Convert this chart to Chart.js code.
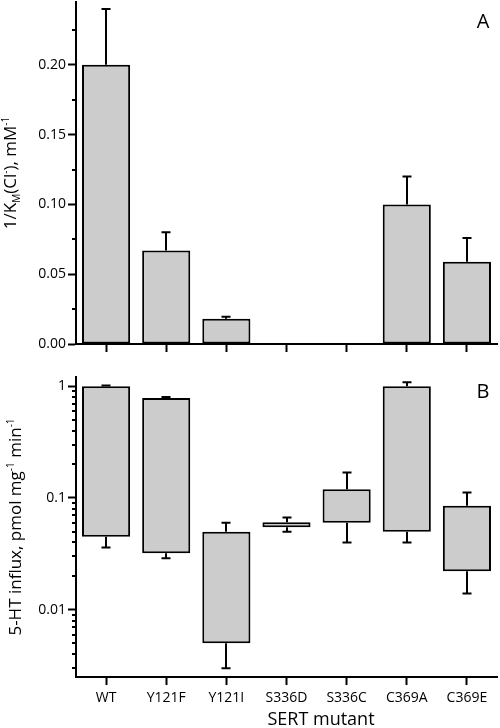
<!DOCTYPE html>
<html>
<head>
<meta charset="utf-8">
<script src="https://cdn.jsdelivr.net/npm/chart.js@4.4.1/dist/chart.umd.min.js"></script>
<style>
  html, body { margin: 0; padding: 0; background: #fff; }
  #wrap { position: relative; width: 500px; height: 728px; }
  canvas { position: absolute; left: 0; }
  #kmChart { top: 0; }
  #influxChart { top: 360px; }
</style>
</head>
<body>
<div id="wrap">
  <canvas id="kmChart" width="500" height="360"></canvas>
  <canvas id="influxChart" width="500" height="368"></canvas>
</div>
<script>
const mutants = ['WT', 'Y121F', 'Y121I', 'S336D', 'S336C', 'C369A', 'C369E'];

// panel A: 1/KM(Cl-) with upward error
const kmInverse = [0.200, 0.067, 0.018, null, null, 0.100, 0.059];
const kmInverseErr = [0.040, 0.013, 0.0015, null, null, 0.020, 0.017];
const kmTicks = [0, 0.05, 0.10, 0.15, 0.20];
const kmTickLabels = ['0.00', '0.05', '0.10', '0.15', '0.20'];
const kmMinorTicks = [0.025, 0.075, 0.125, 0.175, 0.225];

// panel B: 5-HT influx, box from low to high plus whiskers
const influxLow = [0.045, 0.032, 0.0050, 0.0547, 0.060, 0.050, 0.0221];
const influxHigh = [1.0, 0.786, 0.050, 0.0607, 0.120, 1.0, 0.0854];
const influxWhiskerLow = [0.036, 0.0289, 0.0030, 0.050, 0.040, 0.040, 0.0140];
const influxWhiskerHigh = [1.014, 0.803, 0.060, 0.067, 0.169, 1.086, 0.112];
const influxTicks = [0.01, 0.1, 1];
const influxTickLabels = ['0.01', '0.1', '1'];
const influxMinorTicks = [0.003, 0.004, 0.005, 0.006, 0.007, 0.008, 0.009,
  0.02, 0.03, 0.04, 0.05, 0.06, 0.07, 0.08, 0.09,
  0.2, 0.3, 0.4, 0.5, 0.6, 0.7, 0.8, 0.9];

const FONT = "'Open Sans', sans-serif";
Chart.defaults.font.family = FONT;
Chart.defaults.color = '#000';

function drawRotatedTitle(ctx, parts, baseX, centerY) {
  ctx.save();
  ctx.translate(baseX, centerY);
  ctx.rotate(-Math.PI / 2);
  ctx.fillStyle = '#000';
  ctx.textBaseline = 'alphabetic';
  ctx.textAlign = 'left';
  let total = 0;
  parts.forEach(function (p) {
    ctx.font = (p.sub || p.sup ? 10 : 17) + 'px ' + FONT;
    total += ctx.measureText(p.text).width;
  });
  let x = -total / 2;
  parts.forEach(function (p) {
    ctx.font = (p.sub || p.sup ? 10 : 17) + 'px ' + FONT;
    const dy = p.sub ? 4 : (p.sup ? -7 : 0);
    ctx.fillText(p.text, x, dy);
    x += ctx.measureText(p.text).width;
  });
  ctx.restore();
}

function drawMinorTicks(ctx, scale, values) {
  ctx.save();
  ctx.strokeStyle = '#000';
  ctx.lineWidth = 2;
  values.forEach(function (v) {
    const y = Math.round(scale.getPixelForValue(v));
    ctx.beginPath();
    ctx.moveTo(scale.right - 4, y);
    ctx.lineTo(scale.right, y);
    ctx.stroke();
  });
  ctx.restore();
}

function drawWhisker(ctx, x, yFrom, yTo) {
  ctx.beginPath();
  ctx.moveTo(x, yFrom);
  ctx.lineTo(x, yTo);
  ctx.moveTo(x - 4.5, yTo);
  ctx.lineTo(x + 4.5, yTo);
  ctx.stroke();
}

// fixed axis width, no extra padding for the end tick labels
function fixWidth(w) {
  return function (scale) {
    scale.width = w;
    scale.paddingTop = 0;
    scale.paddingBottom = 0;
  };
}
function fixHeight(h) {
  return function (scale) { scale.height = h; };
}

const commonX = {
  grid: { display: true, drawOnChartArea: false, offset: false, tickLength: 8, tickWidth: 2, tickColor: '#000' },
  border: { display: true, color: '#000', width: 2 }
};

// ---- panel A ----
const kmPlugin = {
  id: 'kmExtras',
  afterDatasetsDraw: function (chart) {
    const ctx = chart.ctx;
    const xs = chart.scales.x, ys = chart.scales.y;
    ctx.save();
    ctx.strokeStyle = '#000';
    ctx.lineWidth = 2;
    kmInverse.forEach(function (v, i) {
      if (v === null) return;
      const x = Math.round(xs.getPixelForValue(i));
      drawWhisker(ctx, x, ys.getPixelForValue(v), ys.getPixelForValue(v + kmInverseErr[i]));
    });
    ctx.restore();
    drawMinorTicks(ctx, ys, kmMinorTicks);
    drawRotatedTitle(ctx, [
      { text: '1/K' }, { text: 'M', sub: true }, { text: '(Cl' }, { text: '-', sup: true },
      { text: '), mM' }, { text: '-1', sup: true }
    ], 16, (chart.chartArea.top + chart.chartArea.bottom) / 2);
    ctx.save();
    ctx.font = '20px ' + FONT;
    ctx.fillStyle = '#000';
    ctx.textAlign = 'center';
    ctx.fillText('A', 483, 28);
    ctx.restore();
  }
};

new Chart(document.getElementById('kmChart'), {
  type: 'bar',
  data: {
    labels: mutants,
    datasets: [{
      data: kmInverse,
      backgroundColor: '#cccccc',
      borderColor: '#000',
      borderWidth: 2,
      borderSkipped: false,
      barPercentage: 0.8,
      categoryPercentage: 1
    }]
  },
  options: {
    responsive: false,
    animation: false,
    layout: { padding: { top: 2, right: 3, left: 0, bottom: 0 } },
    plugins: { legend: { display: false }, tooltip: { enabled: false } },
    scales: {
      x: Object.assign({}, commonX, {
        ticks: { display: false },
        afterFit: fixHeight(16)
      }),
      y: {
        min: 0,
        max: 0.245,
        afterBuildTicks: function (scale) {
          scale.ticks = kmTicks.map(function (v) { return { value: v }; });
        },
        afterFit: fixWidth(76),
        ticks: {
          autoSkip: false,
          padding: 2,
          font: { size: 14 },
          callback: function (v, i) { return kmTickLabels[i]; }
        },
        grid: { display: true, drawOnChartArea: false, tickLength: 8, tickWidth: 2, tickColor: '#000' },
        border: { display: true, color: '#000', width: 2 }
      }
    }
  },
  plugins: [kmPlugin]
});

// ---- panel B ----
const influxPlugin = {
  id: 'influxExtras',
  afterDatasetsDraw: function (chart) {
    const ctx = chart.ctx;
    const xs = chart.scales.x, ys = chart.scales.y;
    ctx.save();
    ctx.strokeStyle = '#000';
    ctx.lineWidth = 2;
    mutants.forEach(function (m, i) {
      const x = Math.round(xs.getPixelForValue(i));
      drawWhisker(ctx, x, ys.getPixelForValue(influxHigh[i]), ys.getPixelForValue(influxWhiskerHigh[i]));
      drawWhisker(ctx, x, ys.getPixelForValue(influxLow[i]), ys.getPixelForValue(influxWhiskerLow[i]));
    });
    ctx.restore();
    drawMinorTicks(ctx, ys, influxMinorTicks);
    drawRotatedTitle(ctx, [
      { text: '5-HT influx, pmol mg' }, { text: '-1', sup: true },
      { text: ' min' }, { text: '-1', sup: true }
    ], 21, (chart.chartArea.top + chart.chartArea.bottom) / 2);
    ctx.save();
    ctx.fillStyle = '#000';
    ctx.font = '20px ' + FONT;
    ctx.textAlign = 'center';
    ctx.fillText('B', 483, 38);
    ctx.font = '18px ' + FONT;
    ctx.fillText('SERT mutant', 321, 365);
    ctx.restore();
  }
};

new Chart(document.getElementById('influxChart'), {
  type: 'bar',
  data: {
    labels: mutants,
    datasets: [{
      data: influxLow.map(function (lo, i) { return [lo, influxHigh[i]]; }),
      backgroundColor: '#cccccc',
      borderColor: '#000',
      borderWidth: 2,
      borderSkipped: false,
      barPercentage: 0.8,
      categoryPercentage: 1
    }]
  },
  options: {
    responsive: false,
    animation: false,
    layout: { padding: { top: 17, right: 3, left: 0, bottom: 0 } },
    plugins: { legend: { display: false }, tooltip: { enabled: false } },
    scales: {
      x: Object.assign({}, commonX, {
        ticks: { display: true, autoSkip: false, maxRotation: 0, padding: 5, font: { size: 14 } },
        afterFit: fixHeight(51)
      }),
      y: {
        type: 'logarithmic',
        min: 0.0025,
        max: 1.21,
        afterBuildTicks: function (scale) {
          scale.ticks = influxTicks.map(function (v) { return { value: v }; });
        },
        afterFit: fixWidth(76),
        ticks: {
          autoSkip: false,
          padding: 2,
          font: { size: 14 },
          callback: function (v, i) { return influxTickLabels[i]; }
        },
        grid: { display: true, drawOnChartArea: false, tickLength: 8, tickWidth: 2, tickColor: '#000' },
        border: { display: true, color: '#000', width: 2 }
      }
    }
  },
  plugins: [influxPlugin]
});
</script>
</body>
</html>
